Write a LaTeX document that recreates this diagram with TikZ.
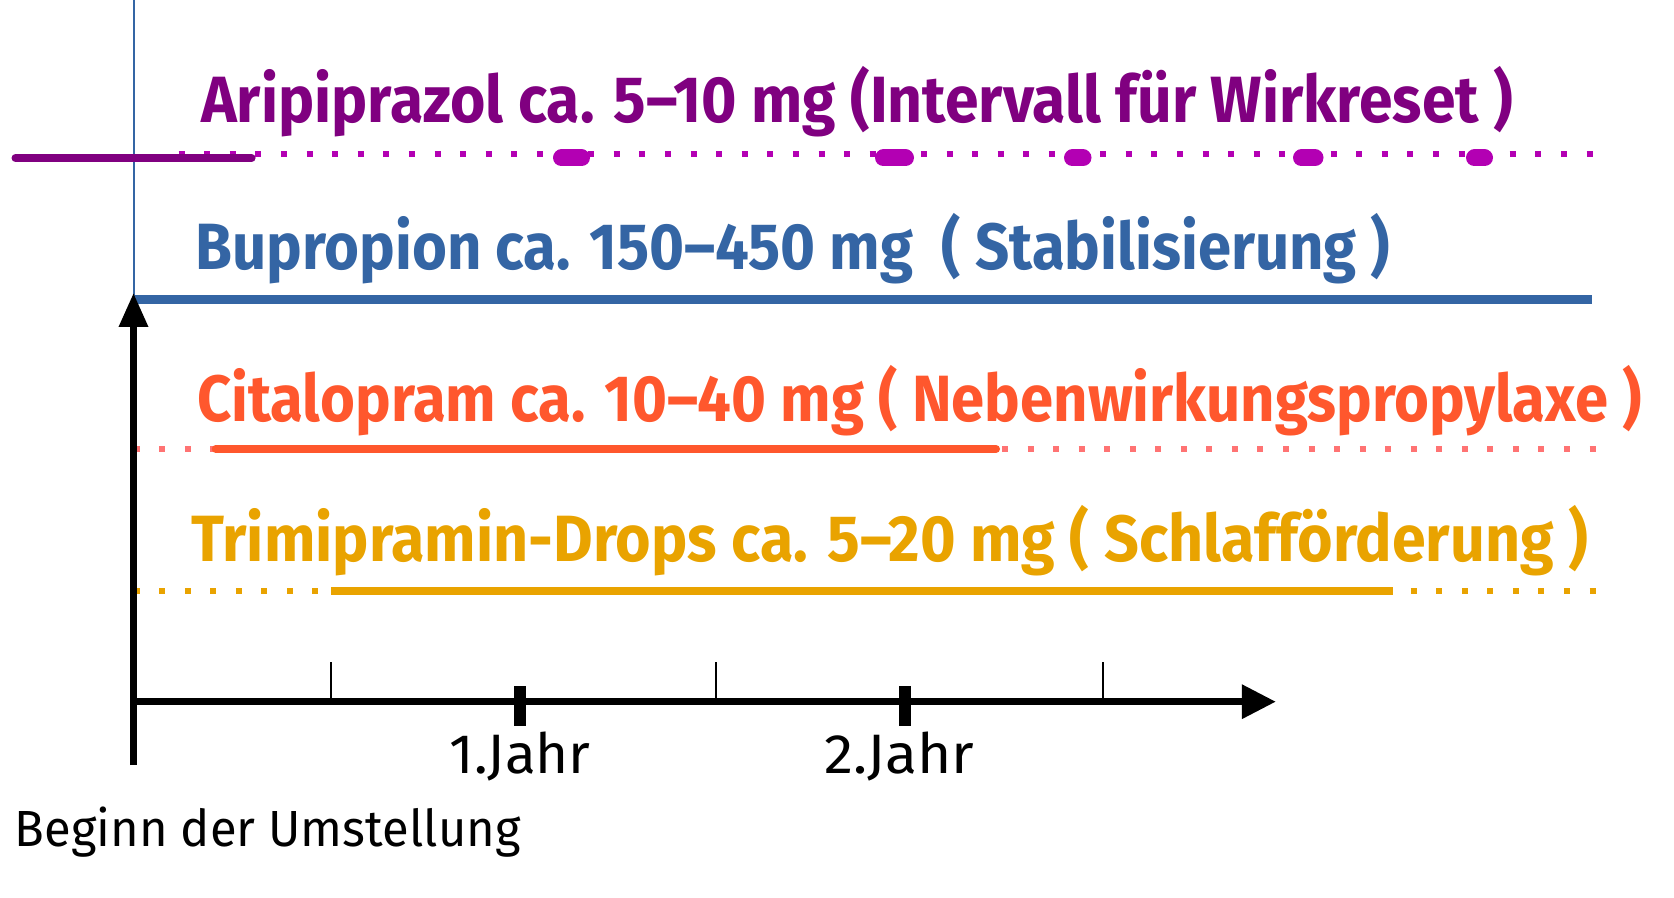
\documentclass[tikz,border=0pt]{standalone}
\usepackage{fontspec}
\setmainfont{Fira Sans}
\usepackage{graphicx}
\usetikzlibrary{arrows.meta}
\definecolor{cpurple}{HTML}{800080}
\definecolor{cmag}{HTML}{B300B3}
\definecolor{cblue}{HTML}{3465A4}
\definecolor{corange}{HTML}{FF572D}
\definecolor{cpink}{HTML}{FF7373}
\definecolor{cgold}{HTML}{E9A300}
\newcommand\fitw[2]{\resizebox{#1}{\height}{#2}}
\begin{document}
\begin{tikzpicture}[x=0.5pt,y=-0.5pt,
  drug/.style={anchor=base west,inner sep=0pt,font=\fontsize{32.7}{36}\selectfont\bfseries},
  lab/.style={anchor=base west,inner sep=0pt,text=black},
  dotline/.style={line width=3pt,dash pattern=on 3pt off 9.77pt},
  magdots/.style={line width=3pt,dash pattern=on 3pt off 9.8pt,cmag},
  pill/.style={line width=8.5pt,line cap=round,cmag},
  axisline/.style={line width=3.3pt,black},
  minortick/.style={line width=1pt,black},
  majortick/.style={line width=6pt,black}]
\useasboundingbox (0,0) rectangle (1674,898);

% coordinates
\coordinate (vtop) at (133.5,0);
\coordinate (vbl) at (133.5,299.5);
\coordinate (mdA) at (178.5,154.5);
\coordinate (mdB) at (1596,154.5);
\coordinate (psA) at (15.5,158);
\coordinate (psB) at (251.6,158);
\coordinate (blA) at (133.5,299.5);
\coordinate (blB) at (1592,299.5);
\coordinate (odA) at (133.7,449);
\coordinate (odB) at (1596,449);
\coordinate (osA) at (215.7,449);
\coordinate (osB) at (996,449);
\coordinate (gdA) at (133.7,591);
\coordinate (gdB) at (1596,591);
\coordinate (gsA) at (331,591);
\coordinate (gsB) at (1393,591);
\coordinate (yb) at (133.5,765);
\coordinate (yt) at (133.5,293);
\coordinate (xo) at (133.5,701.7);
\coordinate (xt) at (1275.8,701.7);

% thin blue vertical line
\draw[cblue,line width=1pt] (vtop) -- (vbl);

% Aripiprazol
\draw[magdots] (mdA) -- (mdB);
\draw[cpurple,line width=4pt,line cap=round] (psA) -- (psB);
\foreach \a/\b [count=\i] in {561.5/581.5, 883.5/905.5, 1072.5/1083, 1301.5/1315, 1474.5/1484.5}{
  \coordinate (pa\i) at (\a,158);
  \coordinate (pb\i) at (\b,158);
  \draw[pill] (pa\i) -- (pb\i);
}

% Bupropion
\draw[cblue,line width=4.5pt] (blA) -- (blB);

% Citalopram
\draw[dotline,cpink] (odA) -- (odB);
\draw[corange,line width=4pt,line cap=round] (osA) -- (osB);

% Trimipramin
\draw[dotline,cgold] (gdA) -- (gdB);
\draw[cgold,line width=3.75pt] (gsA) -- (gsB);

% axes
\draw[axisline,-{Triangle[length=17pt,width=14pt]}] (yb) -- (yt);
\draw[axisline,-{Triangle[length=17pt,width=16.5pt]}] (xo) -- (xt);
\foreach \x [count=\i] in {331,716.4,1102.8}{
  \coordinate (mta\i) at (\x,662);
  \coordinate (mtb\i) at (\x,701.7);
  \draw[minortick] (mta\i) -- (mtb\i);
}
\foreach \x [count=\i] in {519.7,905.3}{
  \coordinate (Mta\i) at (\x,686);
  \coordinate (Mtb\i) at (\x,725.7);
  \draw[majortick] (Mta\i) -- (Mtb\i);
}

% texts
\node[drug,text=cpurple] (tA) at (200.7,122.7) {\fitw{656pt}{Aripiprazol ca. 5–10 mg (Intervall für Wirkreset )}};
\node[drug,text=cblue] (tB) at (195,270) {\fitw{597.5pt}{Bupropion ca. 150–450 mg\ \ ( Stabilisierung )}};
\node[drug,text=corange] (tC) at (196.7,421.7) {\fitw{722.5pt}{Citalopram ca. 10–40 mg ( Nebenwirkungspropylaxe )}};
\node[drug,text=cgold] (tD) at (191,561.7) {\fitw{698.3pt}{Trimipramin-Drops ca. 5–20 mg ( Schlafförderung )}};

\node[lab,font=\fontsize{27.8}{30}\selectfont] (j1) at (449.3,773.3) {\fitw{70.5pt}{1.Jahr}};
\node[lab,font=\fontsize{27.8}{30}\selectfont] (j2) at (824.2,773.3) {\fitw{75pt}{2.Jahr}};
\node[lab,font=\fontsize{25.4}{28}\selectfont] (beg) at (14.5,846.7) {\fitw{252.8pt}{Beginn der Umstellung}};
\end{tikzpicture}
\end{document}
